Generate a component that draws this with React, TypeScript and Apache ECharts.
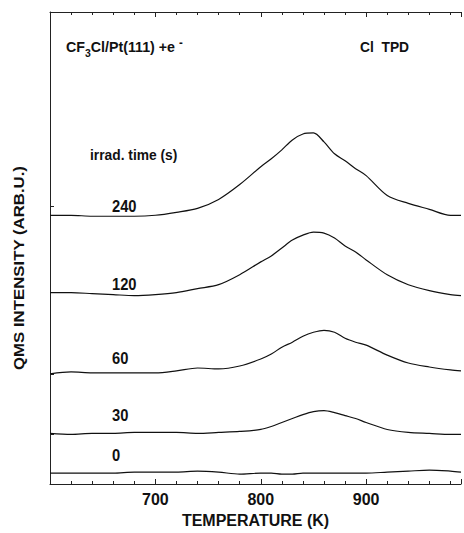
import React, { useEffect, useRef } from "react";
import * as echarts from "echarts";

const temps = [600, 620, 640, 660, 680, 700, 720, 740, 760, 780, 800, 810, 820, 830, 840, 850, 860, 870, 880, 890, 900, 920, 940, 960, 980, 990];
const s240 = [271, 271, 270, 270, 270, 271, 274, 278, 287, 302, 320, 328, 337, 347, 353, 354, 345, 333, 326, 318, 311, 291, 283, 277, 271, 271];
const s120 = [193, 193, 192, 191, 190, 191, 193, 197, 201, 211, 224, 230, 238, 246, 251, 254, 253, 248, 240, 234, 226, 211, 201, 195, 191, 190];
const s60 = [111, 113, 112, 112, 112, 112, 114, 117, 116, 119, 126, 131, 138, 143, 149, 153, 155, 153, 147, 143, 140, 130, 122, 118, 115, 114];
const s30 = [51, 50, 51, 51, 52, 52, 52, 51, 52, 53, 55, 58, 62, 66, 70, 73, 74, 72, 69, 66, 62, 55, 52, 51, 50, 50];
const s0 = [11, 11, 11, 11, 12, 12, 12, 13, 12, 10, 11, 11, 10, 10, 11, 11, 11, 11, 11, 11, 11, 12, 13, 14, 13, 12];
const seriesNames = ["0", "30", "60", "120", "240"];
const seriesValues = [s0, s30, s60, s120, s240];
const baselineTicks = [280, 193, 111, 50];
const xTickLabels = ["700", "800", "900"];

const FONT = "'Liberation Sans', Arial, sans-serif";

export default function App() {
  const ref = useRef<HTMLDivElement>(null);
  useEffect(() => {
    document.body.style.margin = "0";
    const chart = echarts.init(ref.current!, null, { renderer: "svg" });
    const txt = (text: string, x: number, y: number, size = 15, extra: any = {}) => ({
      type: "text",
      x,
      y,
      scaleX: 0.92,
      style: { text, fill: "#111", font: `bold ${size}px ${FONT}`, textVerticalAlign: "middle", ...extra },
    });
    const xCommon = {
      type: "value",
      min: 600,
      max: 990,
      interval: 100,
      splitLine: { show: false },
      axisLine: { show: true, lineStyle: { color: "#222", width: 1 } },
      axisTick: { show: true, inside: true, length: 5, lineStyle: { color: "#222" } },
      minorTick: { show: true, splitNumber: 5, length: 3, lineStyle: { color: "#222" } },
    };
    chart.setOption({
      animation: false,
      backgroundColor: "#fff",
      grid: { left: 50, right: 0, top: 12, bottom: 45 },
      xAxis: [
        {
          ...xCommon,
          position: "bottom",
          name: "TEMPERATURE (K)",
          nameLocation: "middle",
          nameGap: 28,
          nameTextStyle: { color: "#111", fontWeight: "bold", fontSize: 16, fontFamily: FONT },
          axisLabel: {
            color: "#111",
            fontWeight: "bold",
            fontSize: 16,
            fontFamily: FONT,
            margin: 7,
            formatter: (v: number) => (xTickLabels.includes(String(v)) ? String(v) : ""),
          },
        },
        { ...xCommon, position: "top", axisLabel: { show: false } },
      ],
      yAxis: {
        type: "value",
        min: 0,
        max: 476,
        splitLine: { show: false },
        axisLine: { show: true, lineStyle: { color: "#222", width: 1 } },
        axisLabel: { show: false },
        axisTick: { show: true, inside: true, length: 4, customValues: baselineTicks, lineStyle: { color: "#222" } },
      },
      series: seriesNames.map((name, i) => ({
        name,
        type: "line",
        xAxisIndex: 0,
        data: temps.map((t, j) => [t, seriesValues[i][j]]),
        showSymbol: false,
        smooth: 0.3,
        lineStyle: { color: "#111", width: 1.2 },
      })),
      graphic: [
        {
          type: "text",
          x: 66,
          y: 47,
          scaleX: 0.95,
          style: {
            text: "{a|CF}{s|3}{a|Cl/Pt(111) +e }{p|-}",
            fill: "#111",
            textVerticalAlign: "middle",
            rich: {
              a: { font: `bold 15px ${FONT}`, fill: "#111", lineHeight: 22, verticalAlign: "middle" },
              s: { font: `bold 11px ${FONT}`, fill: "#111", verticalAlign: "bottom", lineHeight: 22 },
              p: { font: `bold 12px ${FONT}`, fill: "#111", verticalAlign: "top", lineHeight: 22 },
            },
          },
        },
        txt("Cl  TPD", 360, 47, 15),
        txt("irrad. time (s)", 90, 155, 15),
        txt("240", 112, 206, 16),
        txt("120", 112, 284, 16),
        txt("60", 112, 358, 16),
        txt("30", 112, 415, 16),
        txt("0", 112, 455, 16),
        {
          type: "text",
          x: 19,
          y: 268,
          rotation: Math.PI / 2,
          scaleX: 1.12,
          style: {
            text: "QMS INTENSITY (ARB.U.)",
            fill: "#111",
            font: `bold 15px ${FONT}`,
            textAlign: "center",
            textVerticalAlign: "middle",
          },
        },
      ],
    });
    return () => chart.dispose();
  }, []);
  return <div ref={ref} style={{ width: 464, height: 533 }} />;
}
